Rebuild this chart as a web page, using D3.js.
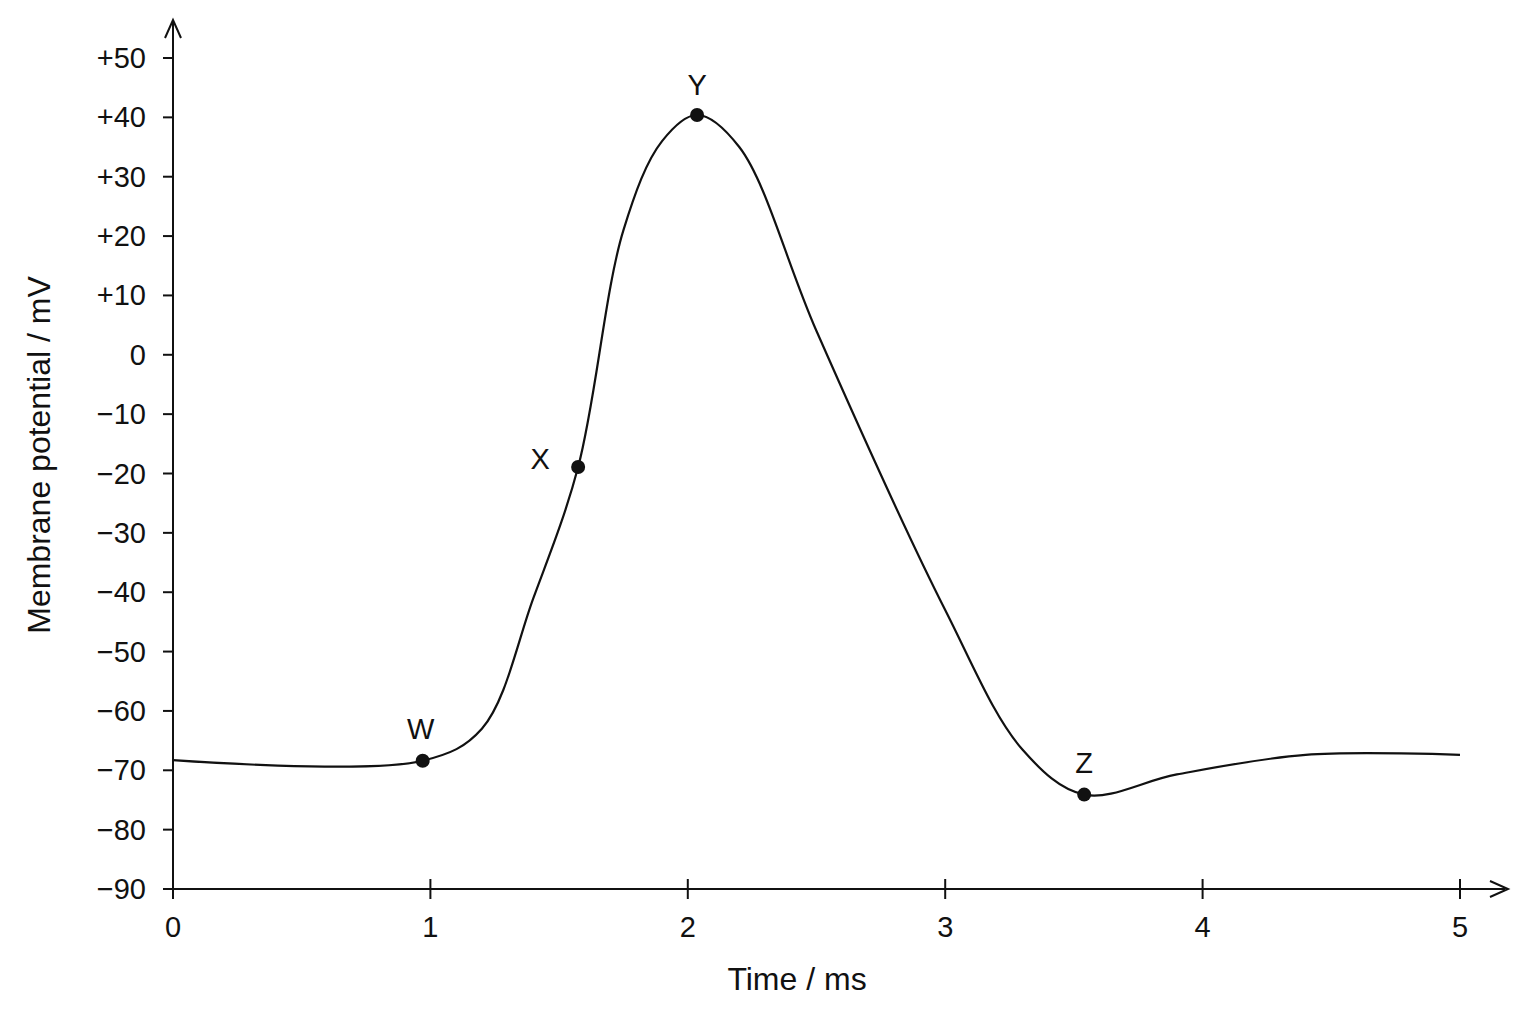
<!DOCTYPE html>
<html><head><meta charset="utf-8">
<script src="https://cdn.jsdelivr.net/npm/d3@7"></script>
<style>body{margin:0;background:#fff}text{font-family:"Liberation Sans",Arial,sans-serif;fill:#111}</style>
</head><body>
<svg id="svg" width="1536" height="1024"></svg>
<script>
var svg = d3.select("#svg");

var times = [0, 0.97, 1.2, 1.4, 1.574, 1.75, 1.9, 2.036, 2.2, 2.5, 3.0, 3.3, 3.54, 3.9, 4.4, 5];
var potentials = [-68.3, -68.4, -63, -41, -18.9, 21, 36, 40.4, 35, 4, -43, -66.5, -74.1, -70.7, -67.4, -67.4];
var marked = [{name: "W", t: 0.97, v: -68.4}, {name: "X", t: 1.574, v: -18.9},
              {name: "Y", t: 2.036, v: 40.4}, {name: "Z", t: 3.54, v: -74.1}];
var xTicks = [0, 1, 2, 3, 4, 5];
var yTicks = d3.range(-90, 51, 10);

var x = d3.scaleLinear().domain([0, 5]).range([173, 1460]);
var y = d3.scaleLinear().domain([-90, 50]).range([889, 58]);

var fmt = function (d) { return d > 0 ? "+" + d : d < 0 ? "\u2212" + Math.abs(d) : "0"; };

// axes lines with arrows
svg.append("line").attr("x1", 173).attr("y1", 889).attr("x2", 173).attr("y2", 22).attr("stroke", "#111").attr("stroke-width", 2);
svg.append("path").attr("d", "M165,38 L173,20 L181,38").attr("fill", "none").attr("stroke", "#111").attr("stroke-width", 2);
svg.append("line").attr("x1", 173).attr("y1", 889).attr("x2", 1505).attr("y2", 889).attr("stroke", "#111").attr("stroke-width", 2);
svg.append("path").attr("d", "M1490,881 L1508,889 L1490,897").attr("fill", "none").attr("stroke", "#111").attr("stroke-width", 2);

svg.selectAll(".yt").data(yTicks).enter().append("line")
  .attr("x1", 163).attr("x2", 173).attr("y1", y).attr("y2", y).attr("stroke", "#111").attr("stroke-width", 2);
svg.selectAll(".yl").data(yTicks).enter().append("text")
  .attr("x", 146).attr("y", function (d) { return y(d) + 10; }).attr("text-anchor", "end")
  .attr("font-size", 29).text(fmt);

svg.selectAll(".xt").data(xTicks).enter().append("line")
  .attr("x1", x).attr("x2", x).attr("y1", 879).attr("y2", 899).attr("stroke", "#111").attr("stroke-width", 2);
svg.selectAll(".xl").data(xTicks).enter().append("text")
  .attr("x", x).attr("y", 937).attr("text-anchor", "middle").attr("font-size", 29).text(function (d) { return d; });

svg.append("text").attr("x", 797).attr("y", 990).attr("text-anchor", "middle").attr("font-size", 32).text("Time / ms");
svg.append("text").attr("transform", "translate(50,455) rotate(-90)").attr("text-anchor", "middle")
  .attr("font-size", 32).text("Membrane potential / mV");

var line = d3.line().curve(d3.curveCatmullRom.alpha(0.5))
  .x(function (d, i) { return x(times[i]); })
  .y(function (d) { return y(d); });
svg.append("path").datum(potentials).attr("d", line).attr("fill", "none").attr("stroke", "#111").attr("stroke-width", 2.2);

svg.selectAll(".dot").data(marked).enter().append("circle")
  .attr("cx", function (d) { return x(d.t); }).attr("cy", function (d) { return y(d.v); }).attr("r", 7).attr("fill", "#111");

var offs = {W: [-2, -22], X: [-38, 2], Y: [0, -20], Z: [0, -22]};
svg.selectAll(".lab").data(marked).enter().append("text")
  .attr("x", function (d) { return x(d.t) + offs[d.name][0]; })
  .attr("y", function (d) { return y(d.v) + offs[d.name][1]; })
  .attr("text-anchor", "middle").attr("font-size", 29).text(function (d) { return d.name; });
</script>
</body></html>
